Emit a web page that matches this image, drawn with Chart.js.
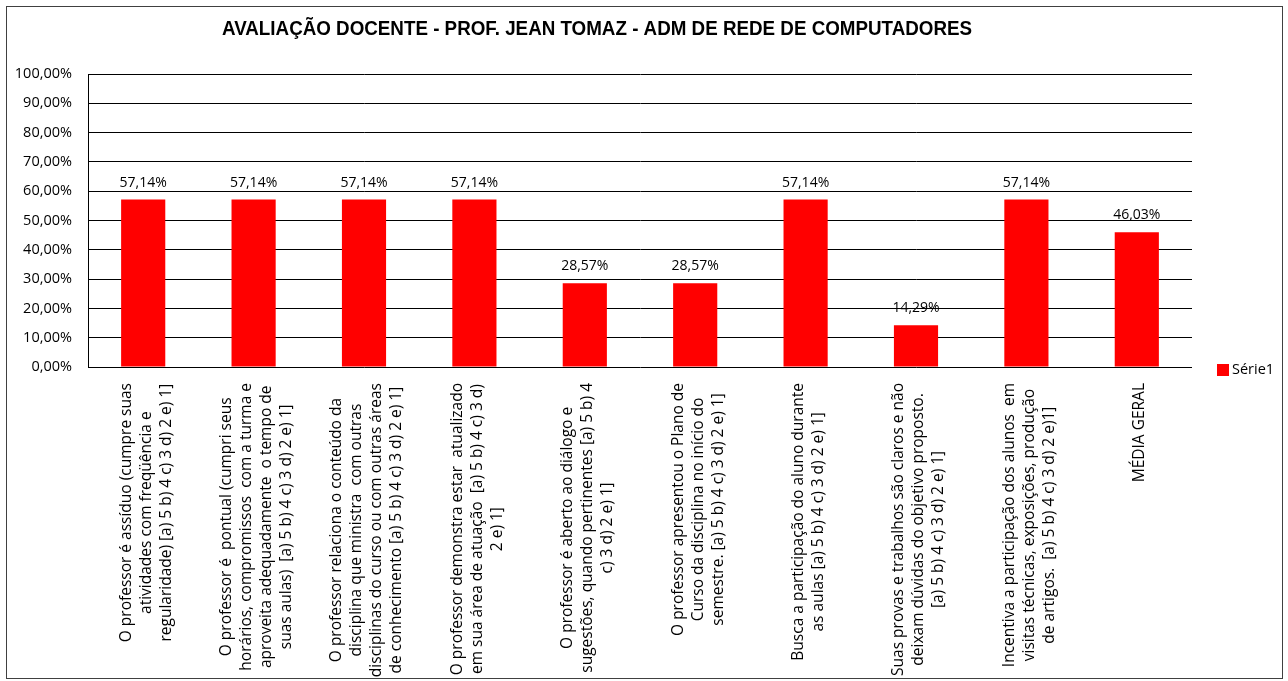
<!DOCTYPE html>
<html>
<head>
<meta charset="utf-8">
<script src="https://cdn.jsdelivr.net/npm/chart.js@4"></script>
<style>
    html, body { margin: 0; padding: 0; background: #fff; }
    #wrap { width: 1288px; height: 681px; position: relative; }
</style>
</head>
<body>
<div id="wrap"><canvas id="avaliacaoChart" width="1288" height="681"></canvas></div>
<script>
const chartTitle = 'AVALIAÇÃO DOCENTE - PROF. JEAN TOMAZ - ADM DE REDE DE COMPUTADORES';
const seriesName = 'Série1';

const categories = [
    ['O professor é assíduo (cumpre suas', 'atividades com freqüência e', 'regularidade) [a) 5 b) 4 c) 3 d) 2 e) 1]'],
    ['O professor é  pontual (cumpri seus', 'horários, compromissos  com a turma e', 'aproveita adequadamente  o tempo de', 'suas aulas)  [a) 5 b) 4 c) 3 d) 2 e) 1]'],
    ['O professor relaciona o conteúdo da', 'disciplina que ministra  com outras', 'disciplinas do curso ou com outras áreas', 'de conhecimento [a) 5 b) 4 c) 3 d) 2 e) 1]'],
    ['O professor demonstra estar  atualizado', 'em sua área de atuação  [a) 5 b) 4 c) 3 d)', '2 e) 1]'],
    ['O professor é aberto ao diálogo e', 'sugestões, quando pertinentes [a) 5 b) 4', 'c) 3 d) 2 e) 1]'],
    ['O professor apresentou o Plano de', 'Curso da disciplina no início do', 'semestre. [a) 5 b) 4 c) 3 d) 2 e) 1]'],
    ['Busca a participação do aluno durante', 'as aulas [a) 5 b) 4 c) 3 d) 2 e) 1]'],
    ['Suas provas e trabalhos são claros e não', 'deixam dúvidas do objetivo proposto.', '[a) 5 b) 4 c) 3 d) 2 e) 1]'],
    ['Incentiva a participação dos alunos  em', 'visitas técnicas, exposições, produção', 'de artigos.  [a) 5 b) 4 c) 3 d) 2 e)1]'],
    ['MÉDIA GERAL']
];

const values = [57.14, 57.14, 57.14, 57.14, 28.57, 28.57, 57.14, 14.29, 57.14, 46.03];

const yTicks = [0, 10, 20, 30, 40, 50, 60, 70, 80, 90, 100];

const barColor = '#FF0000';

function fmtPct(v) {
    return v.toFixed(2).replace('.', ',') + '%';
}

// frame, title, legend, value labels and vertical category labels
const decorPlugin = {
    id: 'decor',
    afterDraw(chart) {
        const ctx = chart.ctx;
        ctx.save();

        ctx.strokeStyle = '#404040';
        ctx.lineWidth = 1;
        ctx.strokeRect(6.5, 6.5, 1276, 672);

        // title squeezed to the width it has in the original
        ctx.fillStyle = '#000';
        ctx.font = 'bold 20px "Liberation Sans"';
        ctx.textAlign = 'center';
        ctx.textBaseline = 'middle';
        const tw = ctx.measureText(chartTitle).width;
        ctx.save();
        ctx.translate(597, 29);
        ctx.scale(750 / tw, 1);
        ctx.fillText(chartTitle, 0, 0);
        ctx.restore();

        // value labels above bars
        ctx.font = '14px "Open Sans"';
        const meta = chart.getDatasetMeta(0);
        meta.data.forEach((bar, i) => {
            ctx.fillText(fmtPct(values[i]), bar.x, bar.y - 17);
        });

        // category labels, rotated, lines centered on each other
        ctx.font = '15.5px "Open Sans"';
        const xs = chart.scales.x;
        const lh = 20;
        categories.forEach((lines, i) => {
            const x = xs.getPixelForTick(i) + 3;
            let maxW = 0;
            lines.forEach(l => { maxW = Math.max(maxW, ctx.measureText(l).width); });
            ctx.save();
            ctx.translate(x, chart.chartArea.bottom);
            ctx.rotate(-Math.PI / 2);
            lines.forEach((l, j) => {
                ctx.fillText(l, -(16 + maxW / 2), (j - (lines.length - 1) / 2) * lh);
            });
            ctx.restore();
        });

        // legend
        ctx.fillStyle = barColor;
        ctx.fillRect(1217, 364, 12, 12);
        ctx.fillStyle = '#000';
        ctx.textAlign = 'left';
        ctx.font = '14.5px "Open Sans"';
        ctx.fillText(seriesName, 1232, 370);

        ctx.restore();
    }
};

new Chart(document.getElementById('avaliacaoChart'), {
    type: 'bar',
    data: {
        labels: categories,
        datasets: [{
            label: seriesName,
            data: values,
            backgroundColor: barColor,
            borderWidth: 0,
            barPercentage: 0.4,
            categoryPercentage: 1.0
        }]
    },
    options: {
        responsive: false,
        animation: false,
        layout: {
            padding: { top: 74, left: 0, right: 96, bottom: 0 }
        },
        plugins: {
            legend: { display: false },
            title: { display: false },
            tooltip: { enabled: false }
        },
        scales: {
            x: {
                grid: { display: false },
                border: { display: false },
                ticks: { display: false },
                afterFit: function(scale) {
                    scale.height = 314;
                }
            },
            y: {
                min: 0,
                max: 100,
                grid: { color: '#000', lineWidth: 1, drawTicks: false },
                border: { color: '#000', width: 1 },
                afterFit: function(scale) {
                    scale.width = 88;
                },
                afterBuildTicks: function(scale) {
                    scale.ticks = yTicks.map(v => ({ value: v }));
                },
                ticks: {
                    padding: 16,
                    color: '#000',
                    font: { family: 'Open Sans', size: 14.5 },
                    callback: function(value) {
                        return fmtPct(value);
                    }
                }
            }
        }
    },
    plugins: [decorPlugin]
});
</script>
</body>
</html>
